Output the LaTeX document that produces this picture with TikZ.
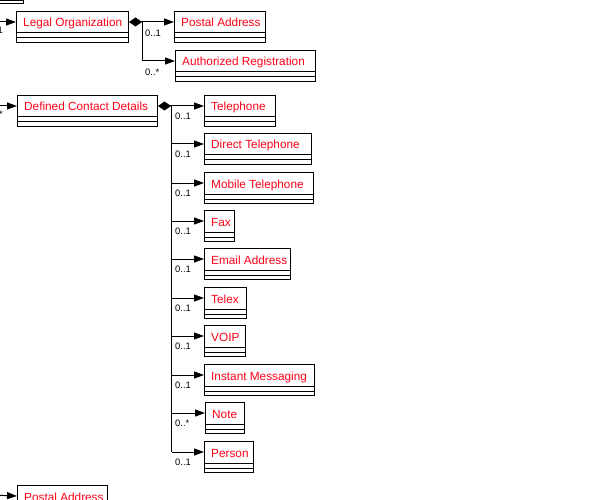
\documentclass[tikz,border=0pt]{standalone}
\usepackage{fontspec}
\setmainfont{Liberation Sans}
\usetikzlibrary{arrows.meta}

\definecolor{clsred}{RGB}{255,0,24}

\tikzset{
  clsbox/.style={draw=black, line width=1pt, fill=white, rectangle, inner sep=0pt,
                 minimum height=31pt},
  clsname/.style={text=clsred, font=\fontsize{11.8}{14}\selectfont, inner sep=0pt, anchor=base west},
  clsline/.style={draw=black, line width=1pt},
  mult/.style={font=\fontsize{9.4}{11}\selectfont, text=black, inner sep=0pt, anchor=west},
  navtip/.style={-{Triangle[length=10pt,width=7pt]}},
  assoc/.style={draw=black, line width=1pt, navtip},
  comp/.style={draw=black, line width=1pt, {Diamond[length=13pt,width=9pt]}-{Triangle[length=10pt,width=7pt]}},
  trunk/.style={draw=black, line width=1pt},
}

% class box: name, left x, top y, width, title
\newcommand\umlbox[5]{%
  \node[clsbox, minimum width=#4pt, anchor=north west] (#1) at (#2,#3) {};
  \node[clsname] (#1-t) at ([xshift=7pt,yshift=-16pt]#1.north west) {#5};
  \coordinate (#1-r) at ([yshift=-11pt]#1.north west);
  \draw[clsline] ([yshift=-22pt]#1.north west) -- ([yshift=-22pt]#1.north east);
  \draw[clsline] ([yshift=-27pt]#1.north west) -- ([yshift=-27pt]#1.north east);
}

\begin{document}
\begin{tikzpicture}[x=1pt,y=-1pt]
\useasboundingbox (0,0) rectangle (597,500);

% partly visible owner class at the top edge
\draw[clsline] (-20,0.5) -- (23,0.5) -- (23,4) -- (-20,4);

% classes
\umlbox{lo}{16}{11}{112}{Legal Organization}
\umlbox{pa}{174}{11}{91}{Postal Address}
\umlbox{ar}{175}{50}{140}{Authorized Registration}

\umlbox{dcd}{17}{95}{140}{Defined Contact Details}
\umlbox{tel}{204}{95}{71}{Telephone}
\umlbox{dtel}{204}{133}{107}{Direct Telephone}
\umlbox{mtel}{204}{172}{109}{Mobile Telephone}
\umlbox{fax}{204}{210}{30}{Fax}
\umlbox{mail}{204}{248}{86}{Email Address}
\umlbox{telex}{204}{287}{42}{Telex}
\umlbox{voip}{204}{325}{41}{VOIP}
\umlbox{im}{204}{364}{110}{Instant Messaging}
\umlbox{note}{205}{402}{39}{Note}
\umlbox{pers}{204}{441}{49}{Person}

\umlbox{pa2}{17}{485}{90}{Postal Address}

% incoming associations from the left edge
\coordinate (in1) at (-10,22);
\coordinate (in2) at (-10,106);
\coordinate (in3) at (-10,495);
\draw[assoc] (in1) -- (lo-r);
\draw[assoc] (in2) -- (dcd-r);
\draw[assoc] (in3) -- (pa2-r);
\node[mult, anchor=east] (m-in1) at (3,30) {0..1};
\node[mult, anchor=east] (m-in2) at (3,114) {0..*};

% Legal Organization compositions
\coordinate (lo-j) at (142,22);
\draw[comp] (lo.east |- lo-r) -- (pa-r);
\draw[assoc] (lo-j) |- (ar-r);
\node[mult] (m-pa) at (145,33) {0..1};
\node[mult] (m-ar) at (145,72) {0..*};

% Defined Contact Details compositions
\coordinate (dj) at (171.5,106);
\draw[comp] (dcd.east |- dcd-r) -- (tel-r);
\draw[trunk] (dj) -- (dj |- pers-r);
\foreach \c in {dtel,mtel,fax,mail,telex,voip,im,note,pers}
  \draw[assoc] (dj |- \c-r) -- (\c-r);

\foreach \c/\m in {tel/0..1,dtel/0..1,mtel/0..1,fax/0..1,mail/0..1,telex/0..1,voip/0..1,im/0..1,note/0..*,pers/0..1}
  \node[mult] (m-\c) at ([xshift=3.5pt,yshift=-10.5pt]dj |- \c-r) {\m};

\end{tikzpicture}
\end{document}
